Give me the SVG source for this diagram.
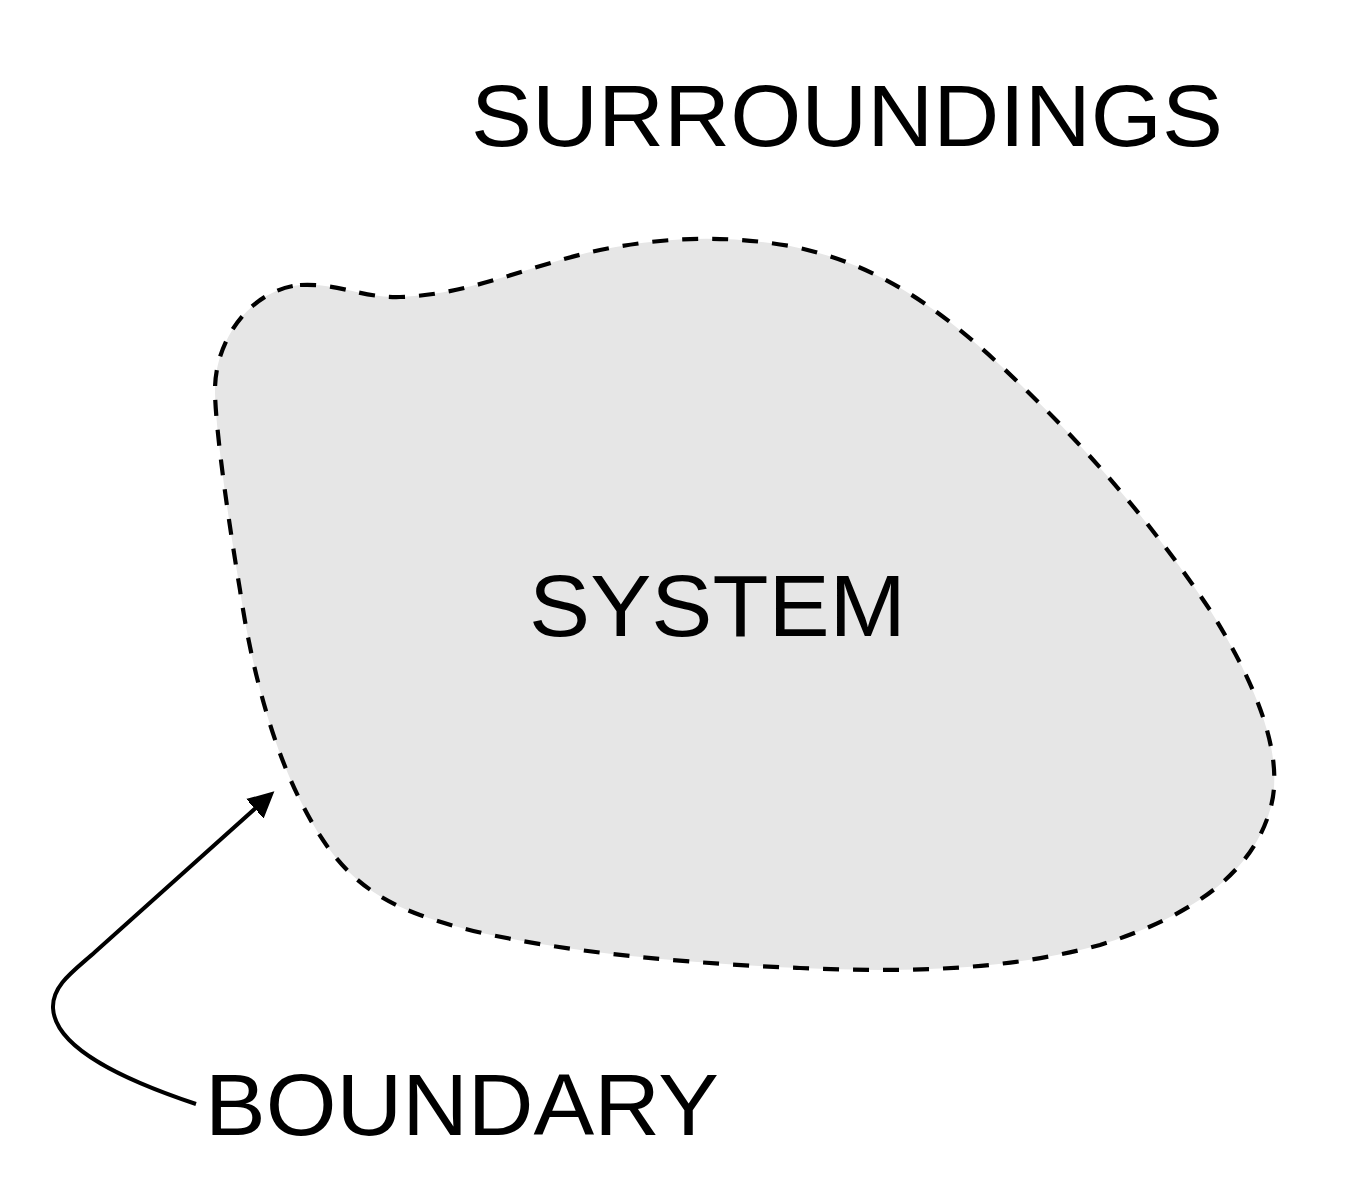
<svg xmlns="http://www.w3.org/2000/svg" width="1367" height="1200" viewBox="0 0 1367 1200">
<style>
.lbl{font-family:"Liberation Sans",Arial,sans-serif;font-size:87px;fill:#000}
.blob{fill:#e6e6e6;stroke:#000;stroke-width:4.2;stroke-dasharray:16 14}
.conn{fill:none;stroke:#000;stroke-width:4}
</style>
<defs>
<marker id="ah" markerWidth="8" markerHeight="8" refX="1" refY="4" orient="auto" markerUnits="strokeWidth">
<path d="M0,4 L-1.5,0 L6.5,4 L-1.5,8 Z" fill="#000"/>
</marker>
</defs>
<rect width="1367" height="1200" fill="#fff"/>
<g id="system">
<path class="blob" d="M300,285 C340,283 360,298 400,297 C470,295 530,265 600,250 C660,238 720,234 790,246 C870,262 930,300 1000,365 C1080,440 1150,520 1210,610 C1260,690 1285,760 1270,810 C1250,880 1180,920 1100,945 C1000,972 900,972 800,968 C650,962 500,945 420,915 C360,893 330,860 300,800 C270,740 250,660 240,590 C225,500 215,420 215,390 C215,340 250,290 300,285 Z"/>
<text class="lbl" x="529" y="636" textLength="377" lengthAdjust="spacingAndGlyphs">SYSTEM</text>
</g>
<g id="surroundings">
<text class="lbl" x="471" y="146" textLength="752" lengthAdjust="spacingAndGlyphs">SURROUNDINGS</text>
</g>
<g id="boundary">
<text class="lbl" x="205" y="1135" textLength="514" lengthAdjust="spacingAndGlyphs">BOUNDARY</text>
</g>
<g id="connectors">
<path class="conn" marker-end="url(#ah)" d="M196,1104 C130,1082 55,1050 53,1008 C52,985 75,970 95,952 L258,806"/>
</g>
</svg>
